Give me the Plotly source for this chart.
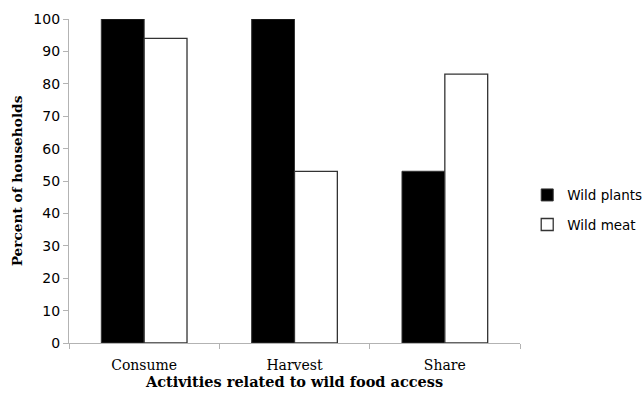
import plotly.graph_objects as go

categories = ["Consume", "Harvest", "Share"]
wild_plants = [100, 100, 53]
wild_meat = [94, 53, 83]
y_ticks = list(range(0, 101, 10))

serif = "DejaVu Serif, Liberation Serif, serif"
sans = "DejaVu Sans, Liberation Sans, sans-serif"

fig = go.Figure()
fig.add_trace(go.Bar(
    x=categories, y=wild_plants, name="Wild plants", legendgroup="plants",
    marker=dict(color="#000000", line=dict(color="#333333", width=1)),
))
fig.add_trace(go.Bar(
    x=categories, y=wild_meat, name="Wild meat", legendgroup="meat",
    marker=dict(color="#ffffff", line=dict(color="#333333", width=1.3)),
))

fig.update_layout(
    width=644, height=397,
    margin=dict(l=69, r=124, t=19, b=54, autoexpand=False),
    paper_bgcolor="white", plot_bgcolor="white",
    barmode="group", bargap=0.43, bargroupgap=0,
    showlegend=True,
    legend=dict(
        x=1.016, y=0.41, xanchor="left", yanchor="middle",
        font=dict(family=sans, size=13.5, color="#000000"),
        tracegroupgap=9,
        bgcolor="rgba(0,0,0,0)",
    ),
    font=dict(family=serif, color="#000000"),
)

fig.update_xaxes(
    type="category", range=[-0.5, 2.5],
    showline=True, linecolor="#b3b3b3", linewidth=1.3,
    ticks="outside", ticklen=5, tickcolor="#b3b3b3", tickson="boundaries",
    ticklabelstandoff=9,
    showgrid=False, zeroline=False,
    tickfont=dict(family=serif, size=14, color="#000000"),
    title=dict(text="<b>Activities related to wild food access</b>",
               font=dict(family=serif, size=14.5, color="#000000"), standoff=3),
)
fig.update_yaxes(
    range=[0, 100], tickvals=y_ticks,
    showline=True, linecolor="#b3b3b3", linewidth=1.3,
    ticks="outside", ticklen=5, tickcolor="#b3b3b3",
    showgrid=False, zeroline=False,
    tickfont=dict(family=sans, size=14, color="#000000"),
    title=dict(text="<b>Percent of households</b>",
               font=dict(family=serif, size=13.7, color="#000000"), standoff=7),
)

fig.write_html("out.html")
